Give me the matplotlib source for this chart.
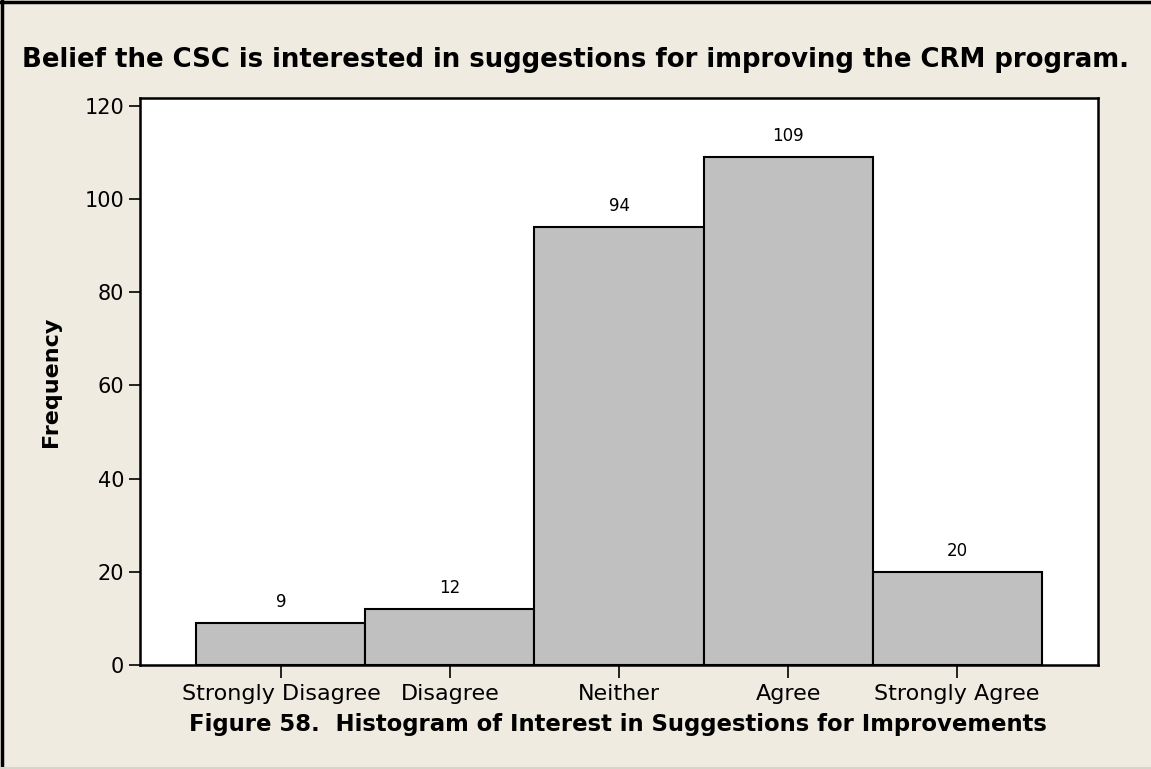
import matplotlib
matplotlib.use("Agg")
import matplotlib.pyplot as plt
from matplotlib.lines import Line2D

categories = ["Strongly Disagree", "Disagree", "Neither", "Agree", "Strongly Agree"]
counts = [9, 12, 94, 109, 20]
yticks = [0, 20, 40, 60, 80, 100, 120]

bg = "#efebe1"
W, H = 1151, 769

fig = plt.figure(figsize=(W / 100, H / 100), dpi=100, facecolor=bg)
ax = fig.add_axes([140 / W, 1 - 665 / H, (1098 - 140) / W, (665 - 98) / H])
ax.set_facecolor("white")

pos = list(range(len(categories)))
ax.bar(pos, counts, width=1.0, color="#c0c0c0", edgecolor="black", linewidth=1.5)
for x, v in zip(pos, counts):
    ax.text(x, v + 2.6, str(v), ha="center", va="bottom", fontsize=12)

ax.set_xlim(-0.834, 4.834)
ax.set_ylim(0, 121.7)
ax.set_yticks(yticks)
ax.set_xticks(pos)
ax.set_xticklabels(categories, fontsize=16)
ax.tick_params(axis="y", labelsize=15, length=8, width=1.2, direction="out")
ax.tick_params(axis="x", length=9, width=1.2, direction="out", pad=5)
for s in ax.spines.values():
    s.set_linewidth(1.8)

fig.text(0.5, 1 - 60 / H, "Belief the CSC is interested in suggestions for improving the CRM program.",
         ha="center", va="center", fontsize=18.7, fontweight="bold")
fig.text(51 / W, 1 - 382 / H, "Frequency", rotation=90, ha="center", va="center",
         fontsize=16, fontweight="bold")
fig.text(618 / W, 1 - 724 / H, "Figure 58.  Histogram of Interest in Suggestions for Improvements",
         ha="center", va="center", fontsize=16.4, fontweight="bold")

# outer frame: dark on left/top, light on bottom
fig.add_artist(Line2D([1.5 / W, 1.5 / W], [0, 1], color="black", linewidth=2.5, transform=fig.transFigure))
fig.add_artist(Line2D([0, 1], [1 - 1.5 / H, 1 - 1.5 / H], color="black", linewidth=2.5, transform=fig.transFigure))
fig.add_artist(Line2D([0, 1], [1 / H, 1 / H], color="#d8d4ca", linewidth=1.5, transform=fig.transFigure))

fig.savefig("out.png", dpi=100, facecolor=bg)
